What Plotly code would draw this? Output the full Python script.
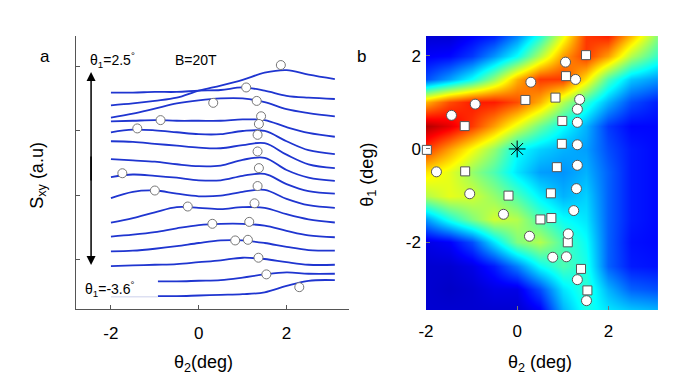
import plotly.graph_objects as go

# page body has an 8px margin, so the figure is a bit smaller than the window
OFF = 8
W, H = 673 - 2 * OFF, 386 - 2 * OFF
FONT = "Liberation Sans, Arial, Helvetica, sans-serif"


def px(p):
    return (p - OFF) / W


def py(p):
    return 1 - (p - OFF) / H


# ---- panel a: S_xy traces (offset, a.u.) vs theta2 ----
th2 = [-2, -1.5, -1, -0.5, 0, 0.5, 1, 1.5, 2, 2.5, 3.1]
sxy = [
    [34.0, 34.3, 34.7, 35.2, 36.3, 37.1, 38.0, 39.1, 39.5, 38.8, 38.1],   # theta1 = 2.5
    [36.0, 36.0, 36.1, 36.1, 36.3, 36.4, 36.8, 36.3, 35.5, 35.2, 35.0],
    [32.1, 32.7, 33.5, 34.3, 34.8, 35.1, 35.1, 34.5, 33.4, 32.8, 32.3],
    [31.5, 31.6, 31.7, 31.6, 31.6, 31.6, 31.8, 31.7, 30.6, 29.7, 29.1],
    [29.8, 30.2, 30.1, 29.8, 29.5, 29.5, 30.0, 30.0, 28.4, 27.0, 26.4],
    [28.4, 28.3, 28.0, 27.7, 27.4, 27.3, 27.8, 28.1, 26.3, 24.8, 24.2],
    [25.6, 25.4, 25.2, 24.8, 24.5, 24.6, 25.5, 25.8, 23.9, 22.7, 22.2],
    [22.8, 23.2, 23.0, 22.7, 22.3, 22.3, 23.0, 23.3, 21.7, 20.6, 20.2],
    [19.5, 20.5, 20.7, 20.2, 19.8, 19.9, 20.5, 20.8, 19.4, 18.4, 18.0],
    [15.7, 16.4, 17.3, 18.1, 18.0, 17.8, 18.1, 18.0, 17.0, 16.2, 15.7],
    [13.5, 13.8, 14.2, 14.8, 15.3, 15.5, 15.5, 15.2, 14.4, 13.7, 13.4],
    [11.2, 11.3, 11.6, 12.0, 12.5, 12.9, 12.9, 12.5, 11.9, 11.4, 11.3],
    [8.9, 9.0, 9.1, 9.2, 9.5, 9.8, 10.2, 10.0, 9.5, 9.1, 9.1],
]
th2_short = [-0.93, -0.5, 0, 0.5, 1, 1.5, 2, 2.5, 3.1]
sxy_short = [
    [6.5, 6.5, 6.6, 6.7, 7.1, 7.6, 7.9, 7.7, 7.7],
    [4.2, 4.2, 4.3, 4.4, 4.5, 4.8, 5.8, 6.6, 6.7],                        # theta1 = -3.6
]
tail_th2 = [-2, -0.93]
tail_sxy = [4.1, 4.1]

peak_th2_a = [1.87, 1.08, 1.32, 1.42, 1.37, 1.34, 1.34, 1.37, 1.34, 1.27, 1.15, 1.12, 1.36, 1.54, 2.29,
              0.33, -0.87, -1.40, -1.74, -1.00, -0.25, 0.31, 0.83]
peak_sxy_a = [40.3, 36.8, 34.7, 32.3, 31.1, 29.4, 26.8, 24.2, 21.4, 18.7, 15.8, 13.0, 10.2, 7.6, 5.6,
              34.4, 31.7, 30.4, 23.4, 20.7, 18.2, 15.5, 12.9]

# ---- panel b: map vs (theta2, theta1) ----
map_th2 = [-2, -1.5, -1, -0.5, 0, 0.5, 1, 1.5, 2, 2.5, 3.1]
map_th1 = [-3.45, -3, -2.5, -2, -1.5, -1, -0.5, 0, 0.5, 1, 1.5, 2, 2.45]
map_z = [
    [0.08, 0.08, 0.08, 0.08, 0.08, 0.12, 0.30, 0.40, 0.35, 0.32, 0.30],
    [0.08, 0.07, 0.08, 0.10, 0.10, 0.20, 0.35, 0.42, 0.30, 0.22, 0.20],
    [0.08, 0.08, 0.10, 0.15, 0.25, 0.38, 0.45, 0.40, 0.22, 0.15, 0.14],
    [0.10, 0.12, 0.20, 0.35, 0.50, 0.55, 0.45, 0.38, 0.22, 0.14, 0.13],
    [0.28, 0.40, 0.50, 0.58, 0.55, 0.45, 0.38, 0.35, 0.22, 0.15, 0.13],
    [0.55, 0.60, 0.58, 0.52, 0.45, 0.36, 0.30, 0.33, 0.22, 0.15, 0.13],
    [0.65, 0.60, 0.52, 0.45, 0.35, 0.28, 0.27, 0.30, 0.22, 0.15, 0.13],
    [0.82, 0.72, 0.62, 0.52, 0.38, 0.33, 0.30, 0.28, 0.20, 0.15, 0.13],
    [0.95, 0.90, 0.82, 0.72, 0.60, 0.48, 0.38, 0.30, 0.18, 0.13, 0.13],
    [0.70, 0.80, 0.85, 0.85, 0.80, 0.70, 0.55, 0.42, 0.30, 0.20, 0.15],
    [0.20, 0.28, 0.38, 0.52, 0.70, 0.82, 0.82, 0.65, 0.45, 0.32, 0.27],
    [0.12, 0.13, 0.18, 0.27, 0.38, 0.55, 0.72, 0.82, 0.72, 0.55, 0.42],
    [0.08, 0.08, 0.12, 0.15, 0.25, 0.40, 0.60, 0.82, 0.85, 0.70, 0.50],
]

circ_th2 = [1.06, 1.28, 0.30, -0.92, -1.44, 1.37, 1.32, 1.32, 1.32, 1.32, -1.77, 1.30, -1.04, -0.30,
            1.24, 0.27, 1.12, 0.78, 1.08, 1.32, 1.52]
circ_th1 = [1.86, 1.49, 1.43, 0.96, 0.72, 1.06, 0.85, 0.57, 0.09, -0.35, -0.49, -0.85, -0.96, -1.40,
            -1.32, -1.87, -1.82, -2.32, -2.31, -2.80, -3.25]
sq_th2 = [1.51, 1.07, 0.18, 0.84, -1.15, 0.99, -1.98, 0.98, -1.14, 0.87, -0.19, 0.74, 0.51, 0.75,
          1.11, 1.40, 1.54]
sq_th1 = [2.01, 1.56, 1.05, 1.10, 0.49, 0.60, -0.02, 0.11, -0.48, -0.39, -1.00, -0.95, -1.51, -1.48,
          -2.00, -2.57, -3.03]

jet = [[0, "rgb(0,0,128)"], [0.125, "rgb(0,0,255)"], [0.375, "rgb(0,255,255)"],
       [0.625, "rgb(255,255,0)"], [0.875, "rgb(255,0,0)"], [1, "rgb(128,0,0)"]]

blue = "#1f35d0"
fig = go.Figure()

for ys in sxy:
    fig.add_trace(go.Scatter(x=th2, y=ys, mode="lines", line=dict(color=blue, width=1.8, shape="spline"),
                             xaxis="x", yaxis="y"))
for ys in sxy_short:
    fig.add_trace(go.Scatter(x=th2_short, y=ys, mode="lines", line=dict(color=blue, width=1.8, shape="spline"),
                             xaxis="x", yaxis="y"))
fig.add_trace(go.Scatter(x=tail_th2, y=tail_sxy, mode="lines", line=dict(color="#dde0f2", width=1.5),
                         xaxis="x", yaxis="y"))
fig.add_trace(go.Scatter(x=peak_th2_a, y=peak_sxy_a, mode="markers",
                         marker=dict(symbol="circle", size=9, color="white", line=dict(color="#777", width=1)),
                         xaxis="x", yaxis="y", cliponaxis=False))

fig.add_trace(go.Heatmap(x=map_th2, y=map_th1, z=map_z, colorscale=jet, zmin=0, zmax=1, zsmooth="best",
                         showscale=False, xaxis="x2", yaxis="y2"))
fig.add_trace(go.Scatter(x=sq_th2, y=sq_th1, mode="markers",
                         marker=dict(symbol="square", size=9, color="white", line=dict(color="#555", width=1)),
                         xaxis="x2", yaxis="y2", cliponaxis=False))
fig.add_trace(go.Scatter(x=circ_th2, y=circ_th1, mode="markers",
                         marker=dict(symbol="circle", size=10, color="white", line=dict(color="#555", width=1)),
                         xaxis="x2", yaxis="y2", cliponaxis=False))
fig.add_trace(go.Scatter(x=[0], y=[0], mode="markers",
                         marker=dict(symbol="asterisk-open", size=14, color="black",
                                     line=dict(color="black", width=1)),
                         xaxis="x2", yaxis="y2"))

tickfont = dict(family=FONT, size=17, color="black")
common = dict(showgrid=False, zeroline=False, ticks="inside", ticklen=4, tickfont=tickfont)

fig.update_layout(
    width=W, height=H, margin=dict(l=0, r=0, t=0, b=0),
    paper_bgcolor="white", plot_bgcolor="rgba(0,0,0,0)", showlegend=False,
    font=dict(family=FONT, color="black"),
    xaxis=dict(domain=[px(69), px(345)], range=[-2.79, 3.42], anchor="y",
               tickvals=[-2, 0, 2], ticktext=["-2", "0", "2"], showline=True, linecolor="#555",
               tickcolor="#555", ticklabelstandoff=9, **common),
    yaxis=dict(domain=[py(309), py(36)], range=[2.19, 44.84], anchor="x",
               tickvals=[10, 20, 30, 40], showticklabels=False, showline=True, linecolor="#555",
               tickcolor="#555", **common),
    xaxis2=dict(domain=[px(423), px(658)], range=[-2, 3.09], anchor="y2",
                tickvals=[-2, 0, 2], ticktext=["-2", "0", "2"], tickcolor="#777",
                ticklabelstandoff=9, **common),
    yaxis2=dict(domain=[py(310), py(36)], range=[-3.45, 2.42], anchor="x2",
                tickvals=[-2, 0, 2], ticktext=["-2", "0", "2"], tickcolor="#777",
                ticklabelstandoff=4, **common),
)


def note(x, y, text, size=17, anchor="center", angle=0):
    fig.add_annotation(x=px(x), y=py(y), xref="paper", yref="paper", text=text, showarrow=False,
                       xanchor=anchor, yanchor="middle", textangle=angle,
                       font=dict(family=FONT, size=size, color="black"))


note(37, 57, "a", 17)
note(358, 57, "b", 17)
note(81, 60, "θ<sub>1</sub>=2.5<sup>°</sup>", 14, "left")
note(167, 60, "B=20T", 14, "left")
note(76, 289, "θ<sub>1</sub>=-3.6<sup>°</sup>", 14, "left")
note(198, 363, "θ<sub>2</sub>(deg)", 18)
note(538, 363, "θ<sub>2</sub> (deg)", 18)
note(30, 175, "S<sub>xy</sub> (a.u)", 18, angle=-90)
note(364, 175, "θ<sub>1</sub> (deg)", 18, angle=-90)

# double-headed arrow for the theta1 range
for tip, off in [(72, 110), (265, -110)]:
    fig.add_annotation(x=px(84), y=py(tip), xref="paper", yref="paper", ax=0, ay=off, text="",
                       showarrow=True, arrowhead=2, arrowsize=1.2, arrowwidth=1.5, arrowcolor="black")

fig.write_html("out.html")
